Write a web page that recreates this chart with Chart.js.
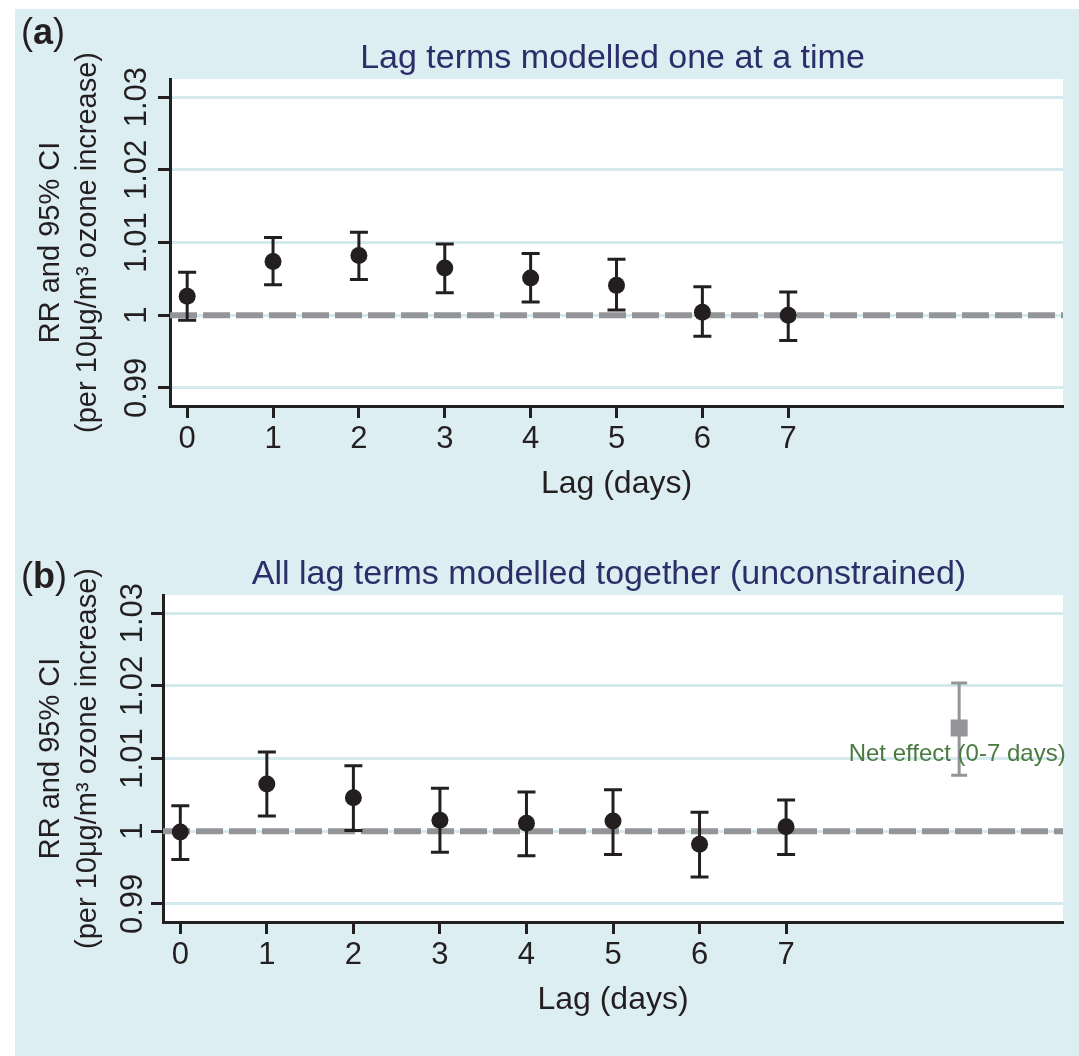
<!DOCTYPE html>
<html lang="en">
<head>
  <meta charset="UTF-8">
  <title>Ozone lag effects</title>
  <script src="https://cdn.jsdelivr.net/npm/chart.js"></script>
  <style>
    html, body { margin: 0; padding: 0; background: #fff; }
    body { width: 1079px; height: 1056px; position: relative; overflow: hidden; }
    #frame { position: absolute; left: 15px; top: 9px; right: 0; bottom: 0; background: #ddeef2; }
    canvas { position: absolute; left: 0; }
    #chartA { top: 0; }
    #chartB { top: 516px; }
  </style>
</head>
<body>
  <div id="frame"></div>
  <canvas id="chartA" width="1079" height="516"></canvas>
  <canvas id="chartB" width="1079" height="540"></canvas>

  <script>
    // lags and axis ticks
    const lags = [0, 1, 2, 3, 4, 5, 6, 7];
    const xTicks = [0, 1, 2, 3, 4, 5, 6, 7];
    const yTicks = [0.99, 1, 1.01, 1.02, 1.03];
    const yTickLabels = ['0.99', '1', '1.01', '1.02', '1.03'];
    const refValue = 1;

    // (a) lag terms modelled one at a time
    const oneEst  = [1.0026, 1.0074, 1.0082, 1.0065, 1.0051, 1.0041, 1.0004, 1.0000];
    const oneLow  = [0.9993, 1.0042, 1.0049, 1.0031, 1.0018, 1.0007, 0.9971, 0.9965];
    const oneHigh = [1.0059, 1.0107, 1.0114, 1.0098, 1.0085, 1.0077, 1.0039, 1.0032];

    // (b) all lag terms modelled together
    const allEst  = [0.9999, 1.0065, 1.0046, 1.0015, 1.0011, 1.0014, 0.9982, 1.0006];
    const allLow  = [0.9961, 1.0021, 1.0001, 0.9971, 0.9966, 0.9968, 0.9937, 0.9968];
    const allHigh = [1.0035, 1.0109, 1.0090, 1.0059, 1.0054, 1.0057, 1.0026, 1.0043];

    // net effect over lags 0-7
    const netLag = 9;
    const netEst = 1.0142;
    const netLow = 1.0077;
    const netHigh = 1.0204;
    const netText = 'Net effect (0-7 days)';

    const ink = '#231f20';
    const grey = '#939598';
    const family = "'Liberation Sans', Arial, sans-serif";
    Chart.defaults.font.family = family;

    function drawPanelLabel(ctx, letter, x, y) {
      ctx.fillStyle = ink;
      ctx.textAlign = 'left';
      ctx.textBaseline = 'alphabetic';
      ctx.font = '36px ' + family;
      ctx.fillText('(', x, y);
      x += ctx.measureText('(').width;
      ctx.font = 'bold 36px ' + family;
      ctx.fillText(letter, x, y);
      x += ctx.measureText(letter).width;
      ctx.font = '36px ' + family;
      ctx.fillText(')', x, y);
    }

    function panelPlugin(cfg) {
      return {
        id: 'panel' + cfg.letter,
        beforeDraw(chart) {
          const { ctx, chartArea: a } = chart;
          ctx.save();
          ctx.fillStyle = '#fff';
          ctx.fillRect(a.left, a.top, a.right - a.left, a.bottom - a.top);
          ctx.restore();
        },
        beforeDatasetsDraw(chart) {
          const { ctx, chartArea: a, scales: { x, y } } = chart;
          ctx.save();
          // reference line at RR = 1
          const yr = y.getPixelForValue(refValue);
          ctx.strokeStyle = grey;
          ctx.lineWidth = 6;
          ctx.setLineDash([27, 6]);
          ctx.beginPath();
          ctx.moveTo(a.left, yr);
          ctx.lineTo(a.right, yr);
          ctx.stroke();
          ctx.setLineDash([]);

          // confidence intervals
          cfg.bars.forEach(b => {
            ctx.strokeStyle = b.color;
            ctx.lineWidth = 3;
            b.xs.forEach((lag, i) => {
              const px = x.getPixelForValue(lag);
              const lo = y.getPixelForValue(b.low[i]);
              const hi = y.getPixelForValue(b.high[i]);
              ctx.beginPath();
              ctx.moveTo(px, lo); ctx.lineTo(px, hi);
              ctx.moveTo(px - b.cap, lo); ctx.lineTo(px + b.cap, lo);
              ctx.moveTo(px - b.cap, hi); ctx.lineTo(px + b.cap, hi);
              ctx.stroke();
            });
          });
          ctx.restore();
        },
        afterDraw(chart) {
          const { ctx, chartArea: a, scales: { x, y } } = chart;
          ctx.save();

          // rotated y tick labels
          ctx.fillStyle = ink;
          ctx.font = '31px ' + family;
          ctx.textAlign = 'center';
          ctx.textBaseline = 'alphabetic';
          yTicks.forEach((v, i) => {
            ctx.save();
            ctx.translate(cfg.yLabelX, y.getPixelForValue(v));
            ctx.rotate(-Math.PI / 2);
            ctx.fillText(yTickLabels[i], 0, 0);
            ctx.restore();
          });

          // panel title
          ctx.fillStyle = '#2c2e6a';
          ctx.font = '34px ' + family;
          ctx.fillText(cfg.title, (a.left + a.right) / 2 - 4, a.top - 11);

          drawPanelLabel(ctx, cfg.letter, 21, cfg.labelY);

          if (cfg.net) {
            ctx.fillStyle = '#4a7a40';
            ctx.font = '24px ' + family;
            ctx.textAlign = 'center';
            ctx.textBaseline = 'middle';
            ctx.fillText(netText, x.getPixelForValue(netLag) - 2, y.getPixelForValue(cfg.netTextAt));
          }
          ctx.restore();
        }
      };
    }

    function makeChart(id, cfg) {
      return new Chart(document.getElementById(id), {
        type: 'scatter',
        data: { datasets: cfg.datasets },
        options: {
          responsive: false,
          animation: false,
          layout: { padding: { top: 79, right: 16, bottom: cfg.padBottom, left: 0 } },
          plugins: {
            legend: { display: false },
            tooltip: { enabled: false }
          },
          scales: {
            x: {
              type: 'linear',
              min: -0.2,
              max: 10.2,
              afterBuildTicks: s => { s.ticks = xTicks.map(v => ({ value: v })); },
              afterFit: s => { s.height = 110; },
              grid: { drawOnChartArea: false, drawTicks: true, tickLength: 12, tickWidth: 3, tickColor: ink },
              border: { display: true, color: ink, width: 3 },
              ticks: { color: ink, font: { size: 31 }, padding: 3, maxRotation: 0, autoSkip: false, callback: v => String(v) },
              title: { display: true, text: 'Lag (days)', color: ink, font: { size: 32 }, padding: { top: 0, bottom: 13 } }
            },
            y: {
              min: 0.9875,
              max: 1.0325,
              afterBuildTicks: s => { s.ticks = yTicks.map(v => ({ value: v })); },
              afterFit: s => { s.width = cfg.axisLeft; },
              grid: { color: '#d4eaef', lineWidth: 3, drawTicks: true, tickLength: 12, tickWidth: 3, tickColor: ink },
              border: { display: true, color: ink, width: 3 },
              ticks: { display: false },
              title: {
                display: true,
                text: ['RR and 95% CI', '(per 10μg/m³ ozone increase)'],
                color: ink,
                font: { size: 29, lineHeight: 1.28 },
                padding: { top: 32, bottom: 0 }
              }
            }
          }
        },
        plugins: [panelPlugin(cfg)]
      });
    }

    const dot = { pointRadius: 8.5, pointHoverRadius: 8.5, pointBackgroundColor: ink, pointBorderWidth: 0, showLine: false };

    makeChart('chartA', {
      letter: 'a',
      title: 'Lag terms modelled one at a time',
      labelY: 44,
      axisLeft: 170,
      yLabelX: 146,
      padBottom: 0,
      datasets: [
        Object.assign({ label: 'RR', data: lags.map((l, i) => ({ x: l, y: oneEst[i] })) }, dot)
      ],
      bars: [{ xs: lags, low: oneLow, high: oneHigh, color: ink, cap: 9 }]
    });

    makeChart('chartB', {
      letter: 'b',
      title: 'All lag terms modelled together (unconstrained)',
      labelY: 72,
      axisLeft: 163,
      yLabelX: 142,
      padBottom: 24,
      net: true,
      netTextAt: 1.0105,
      datasets: [
        Object.assign({ label: 'RR', data: lags.map((l, i) => ({ x: l, y: allEst[i] })) }, dot),
        {
          label: netText,
          data: [{ x: netLag, y: netEst }],
          pointStyle: 'rect',
          pointRadius: 12,
          pointHoverRadius: 12,
          pointBackgroundColor: grey,
          pointBorderWidth: 0,
          showLine: false
        }
      ],
      bars: [
        { xs: lags, low: allLow, high: allHigh, color: ink, cap: 9 },
        { xs: [netLag], low: [netLow], high: [netHigh], color: grey, cap: 8 }
      ]
    });
  </script>
</body>
</html>
